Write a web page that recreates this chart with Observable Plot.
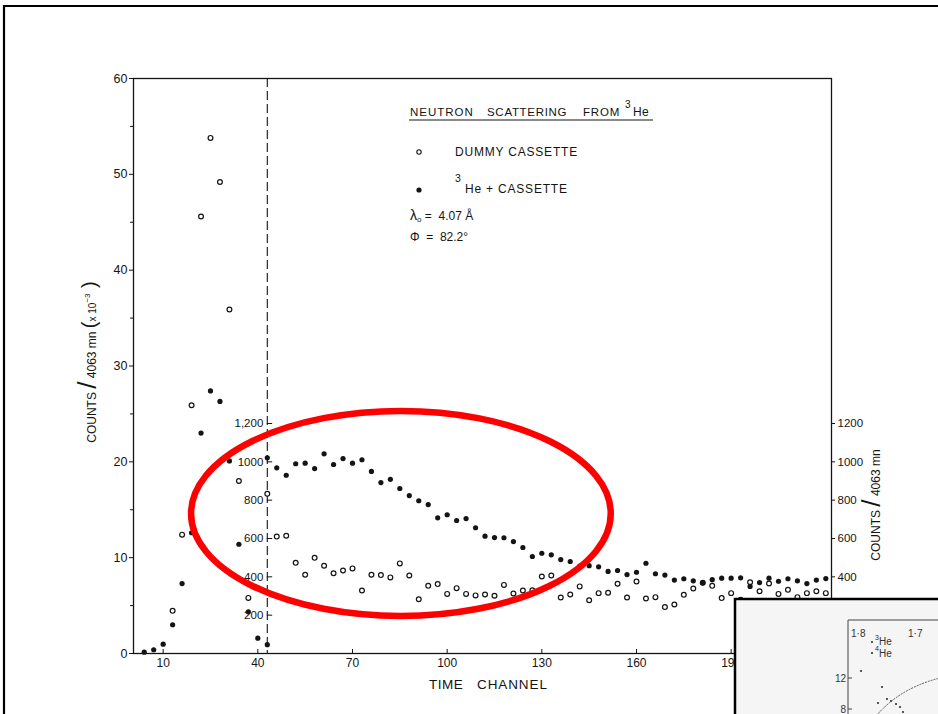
<!DOCTYPE html>
<html><head><meta charset="utf-8">
<script src="https://cdn.jsdelivr.net/npm/d3@7"></script>
<script src="https://cdn.jsdelivr.net/npm/@observablehq/plot@0.6"></script>
<style>body{margin:0;background:#fff}svg{display:block}</style>
</head><body><div id="chart"></div>
<script>
// ---- data ----
// Peak region, left axis (counts / 4063 mn, x10^-3)
const peakChannels = [4, 7, 10, 13, 16, 19, 22, 25, 28, 31, 34, 37, 40, 43];
const peakHe3      = [0.14, 0.39, 0.97, 3.0, 7.3, 12.6, 23.0, 27.4, 26.3, 20.1, 11.4, 4.35, 1.6, 0.92];
const peakDummy    = [null, null, null, 4.45, 12.4, 25.9, 45.6, 53.8, 49.2, 35.9, 18.0, 5.8, null, null];

// Tail region, magnified right axis (counts / 4063 mn)
const tailChannels = [43, 46, 49, 52, 55, 58, 61, 64, 67, 70, 73, 76, 79, 82, 85, 88, 91, 94, 97, 100,
  103, 106, 109, 112, 115, 118, 121, 124, 127, 130, 133, 136, 139, 142, 145, 148, 151, 154, 157, 160,
  163, 166, 169, 172, 175, 178, 181, 184, 187, 190, 193, 196, 199, 202, 205, 208, 211, 214, 217, 220];
const tailHe3 = [1021, 969, 930, 990, 993, 965, 1042, 986, 1017, 993, 1011, 950, 892, 909, 861, 824, 797, 777, 708, 724,
  694, 704, 656, 612, 605, 604, 584, 553, 506, 523, 515, 490, 480, 456, 458, 452, 428, 433, 412, 424,
  471, 416, 409, 383, 390, 379, 369, 385, 393, 393, 395, 350, 370, 393, 377, 390, 379, 365, 383, 391];
const tailDummy = [833, 610, 614, 473, 411, 499, 458, 419, 433, 444, 329, 411, 409, 397, 470, 407, 283, 353, 362, 311,
  341, 311, 303, 308, 301, 358, 313, 329, 330, 402, 407, 292, 308, 350, 278, 315, 317, 364, 292, 376,
  287, 294, 242, 256, 306, 339, 369, 353, 289, 315, 280, 372, 325, 365, 311, 332, 294, 315, 325, 315];

// axes
const leftTicks = [0, 10, 20, 30, 40, 50, 60];
const leftMinorTicks = [5, 15, 25, 35, 45, 55];
const xTicks = [10, 40, 70, 100, 130, 160, 190];
const rightTicks = [400, 600, 800, 1000, 1200];
const innerTicks = [200, 400, 600, 800, 1000, 1200];
const innerTickLabels = ["200", "400", "600", "800", "1000", "1,200"];
const dashedChannel = 43;
const magnification = 50; // right-axis counts per left-axis unit

// annotation ellipse (data units)
const ellipseCenter = [85.5, 14.56];
const ellipseRadii = [66.5, 10.7];

// ---- rows ----
const peakHe3Rows = peakChannels.map((c, i) => ({c, v: peakHe3[i]})).filter(d => d.v != null);
const peakDummyRows = peakChannels.map((c, i) => ({c, v: peakDummy[i]})).filter(d => d.v != null);
const tailHe3Rows = tailChannels.map((c, i) => ({c, v: tailHe3[i] / magnification}));
const tailDummyRows = tailChannels.map((c, i) => ({c, v: tailDummy[i] / magnification}));

const FONT = "'Liberation Sans', Arial, sans-serif";
const ink = "#141414";

const plot = Plot.plot({
  width: 938, height: 714,
  marginLeft: 133, marginRight: 107, marginTop: 78, marginBottom: 61,
  style: {fontFamily: FONT, background: "#fff", color: ink, overflow: "visible"},
  x: {domain: [0.6, 221.8]},
  y: {domain: [0, 60]},
  marks: [
    Plot.frame({stroke: ink, strokeWidth: 1.3}),
    Plot.ruleX([dashedChannel], {stroke: ink, strokeWidth: 1.1, strokeDasharray: "9,4"}),
    Plot.axisY({ticks: leftTicks, tickSize: 4, tickPadding: 2, fontSize: 12.5, label: null}),
    Plot.axisY({ticks: leftMinorTicks, tickSize: 3, tickFormat: () => "", label: null}),
    Plot.axisY({anchor: "right", ticks: rightTicks.map(v => v / magnification), tickSize: 3, tickPadding: 3,
      tickFormat: d => String(Math.round(d * magnification)), fontSize: 11.5, label: null}),
    Plot.axisX({ticks: xTicks, tickSize: 0, tickPadding: 5, fontSize: 12, label: null}),
    Plot.ruleX(xTicks, {x: d => d, y1: 0, y2: 0.42, stroke: ink}),
    Plot.ruleY(innerTicks, {y: d => d / magnification, x1: dashedChannel, x2: dashedChannel + 1.7, stroke: ink}),
    Plot.text(innerTicks, {y: d => d / magnification, x: dashedChannel, text: (d, i) => innerTickLabels[i],
      textAnchor: "end", dx: -4, fontSize: 11.5, fill: ink}),
    Plot.dot(peakDummyRows, {x: "c", y: "v", r: 2.4, fill: "#fff", stroke: ink, strokeWidth: 1.2}),
    Plot.dot(tailDummyRows, {x: "c", y: "v", r: 2.4, fill: "#fff", stroke: ink, strokeWidth: 1.2}),
    Plot.dot(peakHe3Rows, {x: "c", y: "v", r: 2.6, fill: ink}),
    Plot.dot(tailHe3Rows, {x: "c", y: "v", r: 2.6, fill: ink})
  ]
});
document.getElementById("chart").appendChild(plot);

const svg = d3.select(plot);
const xs = plot.scale("x"), ys = plot.scale("y");

function txt(parent, x, y, s, size, opts = {}) {
  const t = parent.append("text").attr("x", x).attr("y", y).attr("font-size", size)
    .attr("font-family", FONT).attr("fill", opts.fill || ink).attr("text-anchor", opts.anchor || "start").text(s);
  if (opts.ls) t.attr("letter-spacing", opts.ls);
  return t;
}

// title / legend block
txt(svg, 410, 116, "NEUTRON", 11.5, {ls: 1});
txt(svg, 487, 116, "SCATTERING", 11.5, {ls: 0.7});
txt(svg, 583, 116, "FROM", 11.5, {ls: 0.8});
txt(svg, 625, 108, "3", 10);
txt(svg, 633, 116, "He", 12, {ls: 0.4});
svg.append("line").attr("x1", 409).attr("x2", 653).attr("y1", 120).attr("y2", 120).attr("stroke", ink).attr("stroke-width", 1);

svg.append("circle").attr("cx", 419).attr("cy", 152).attr("r", 2.2).attr("fill", "#fff").attr("stroke", ink).attr("stroke-width", 1.1);
txt(svg, 455, 156, "DUMMY CASSETTE", 12, {ls: 0.8});
svg.append("circle").attr("cx", 419).attr("cy", 190).attr("r", 2.6).attr("fill", ink);
txt(svg, 455, 182, "3", 10.5);
txt(svg, 465, 193, "He + CASSETTE", 12, {ls: 0.8});
const lam = txt(svg, 410, 220, "λ", 14);
lam.append("tspan").attr("font-size", 8).attr("dy", 2).text("o");
lam.append("tspan").attr("font-size", 12).attr("dy", -2).text(" =  4.07 Å");
txt(svg, 410, 241, "Φ  =  82.2°", 12);

// left axis label (rotated)
const ly = svg.append("text").attr("transform", "translate(96,362) rotate(-90)")
  .attr("text-anchor", "middle").attr("font-family", FONT).attr("font-size", 12).attr("fill", ink);
ly.append("tspan").text("COUNTS ");
ly.append("tspan").attr("font-size", 26).attr("font-weight", 200).text("/");
ly.append("tspan").text(" 4063 mn ");
ly.append("tspan").attr("font-size", 20).attr("font-weight", 200).text("(");
ly.append("tspan").attr("font-size", 10).text("x 10");
ly.append("tspan").attr("font-size", 8).attr("dy", -6).text("−3");
ly.append("tspan").attr("font-size", 20).attr("font-weight", 200).attr("dy", 6).text(" )");

// right axis label
const ry = svg.append("text").attr("transform", "translate(880,505) rotate(-90)")
  .attr("text-anchor", "middle").attr("font-family", FONT).attr("font-size", 12).attr("fill", ink);
ry.append("tspan").text("COUNTS ");
ry.append("tspan").attr("font-size", 26).attr("font-weight", 200).text("/");
ry.append("tspan").text(" 4063 mn");

// x label
txt(svg, 429, 689, "TIME", 13.5, {ls: 0.5});
txt(svg, 477, 689, "CHANNEL", 13.5, {ls: 0.9});

// red annotation ellipse
const cx = xs.apply(ellipseCenter[0]), cy = ys.apply(ellipseCenter[1]);
const rx = xs.apply(ellipseCenter[0] + ellipseRadii[0]) - cx;
const ryy = cy - ys.apply(ellipseCenter[1] + ellipseRadii[1]);
svg.append("ellipse").attr("cx", cx).attr("cy", cy).attr("rx", rx).attr("ry", ryy)
  .attr("fill", "none").attr("stroke", "#ff0000").attr("stroke-width", 6.5);

// inset (cropped neighbouring figure)
const ins = svg.append("g");
ins.append("rect").attr("x", 735).attr("y", 599).attr("width", 220).attr("height", 130)
  .attr("fill", "#f5f5f5").attr("stroke", "#000").attr("stroke-width", 2.5);
ins.append("path").attr("d", "M848,716 V620 H940").attr("fill", "none").attr("stroke", "#444").attr("stroke-width", 1);
ins.append("path").attr("d", "M848,678 h4 M848,709 h4").attr("stroke", "#444");
const g = "#333";
txt(ins, 851, 637, "1·8", 10, {fill: g});
txt(ins, 908, 637, "1·7", 10, {fill: g});
txt(ins, 875, 640, "3", 7, {fill: g}); txt(ins, 879, 645, "He", 10, {fill: g});
txt(ins, 875, 651, "4", 7, {fill: g}); txt(ins, 879, 657, "He", 10, {fill: g});
txt(ins, 846, 682, "12", 10, {fill: g, anchor: "end"});
txt(ins, 846, 713, "8", 10, {fill: g, anchor: "end"});
[[872, 642], [872, 653], [861, 671], [882, 687], [878, 703], [887, 699], [891, 701], [896, 704], [900, 707], [903, 712]]
  .forEach(([x, y]) => ins.append("circle").attr("cx", x).attr("cy", y).attr("r", 1.1).attr("fill", g));
ins.append("path").attr("d", "M876,716 Q900,688 940,678").attr("fill", "none").attr("stroke", "#555")
  .attr("stroke-width", 1).attr("stroke-dasharray", "2,1");

// outer scan border
svg.append("path").attr("d", "M4,716 V6 H940").attr("fill", "none").attr("stroke", "#000").attr("stroke-width", 2.2);
</script>
</body></html>
